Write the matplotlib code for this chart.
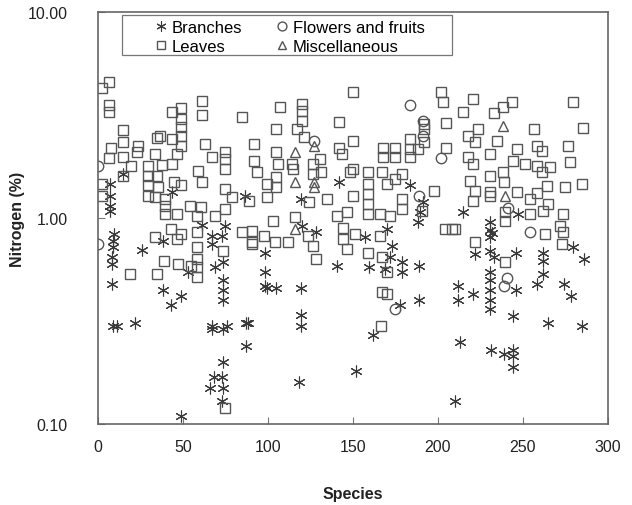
import numpy as np
import matplotlib
matplotlib.use("Agg")
import matplotlib.pyplot as plt
from matplotlib.ticker import FixedLocator, NullLocator, FixedFormatter
from matplotlib.patches import Rectangle

plt.rcParams['font.family'] = ['Liberation Sans', 'DejaVu Sans']

# Branches (species index, nitrogen %)
branch_x = [7, 7, 7, 7, 15, 9.5, 9, 9, 8.5, 8.5, 8.5, 26, 38, 43, 49, 9, 11, 22,
            43.5, 38, 61, 67, 67, 69, 53, 67, 73.5, 73, 73.5, 73.5, 73.5, 67, 73.5,
            87, 87, 73.5, 68, 73, 66, 73.5, 73, 49, 75, 86.5,
            98, 98, 98, 119.5, 120, 128, 142, 140.5, 99.5, 105, 119.5, 119.5, 119.5,
            88, 76, 118, 151.5, 159.5, 173, 172, 179, 179, 189, 189, 177.5, 162, 157,
            183.5, 191, 189.5, 188, 170, 215, 222, 169, 212, 212, 220.5,
            247, 230.5, 230.5, 230.5, 232, 230.5, 233, 246, 262, 262, 262, 258, 246,
            274, 278, 279.5, 286, 230.5, 230.5, 230.5, 230.5, 230.5, 244, 265, 285,
            213, 231, 239, 244, 244, 244, 210]
branch_y = [1.46, 1.28, 1.14, 1.08, 1.64, 0.835, 0.77, 0.72, 0.65, 0.6, 0.48, 0.7, 0.45, 0.38, 0.42, 0.3, 0.3, 0.31,
            1.34, 0.77, 0.93, 0.82, 0.75, 0.58, 0.55, 0.3, 0.61, 0.82, 0.5, 0.45, 0.4, 0.29, 0.29,
            0.31, 0.24, 0.2, 0.17, 0.17, 0.15, 0.15, 0.13, 0.11, 0.915, 1.28,
            0.68, 0.55, 0.47, 1.24, 0.915, 0.855, 1.5, 0.585, 0.46, 0.46, 0.46, 0.34, 0.3,
            0.31, 0.3, 0.16, 0.18, 0.58, 0.73, 0.65, 0.61, 0.55, 0.585, 0.4, 0.38, 0.27, 0.81,
            1.45, 1.2, 1.07, 0.955, 0.885, 1.07, 0.67, 0.565, 0.47, 0.4, 0.43,
            1.05, 0.955, 0.88, 0.81, 0.85, 0.69, 0.65, 0.68, 0.68, 0.62, 0.535, 0.48, 0.45,
            0.48, 0.42, 0.72, 0.63, 0.55, 0.5, 0.45, 0.4, 0.36, 0.335, 0.31, 0.3,
            0.25, 0.23, 0.22, 0.23, 0.215, 0.19, 0.13]

# Leaves
leaf_x = [2.5, 6.5, 6.5, 6.5, 15, 14.5, 7.5, 6.5, 15, 19.5, 14.5, 23.5, 23, 43.5, 49, 49, 49, 49, 49,
          36.5, 34.5, 43.5, 46.5, 43.5, 33.5, 29.5, 37.5, 29.5, 34.5, 29.5, 35.5, 29.5, 33.5,
          39.5, 39.5, 39.5, 46.5, 49, 45, 61, 61, 63, 67, 59, 61, 54, 60.5, 58, 69, 58, 33.5,
          43, 49, 46.5, 58, 58, 58, 58, 55, 47, 39, 34.5, 19, 2.5, 2.5, 75, 75, 75, 75, 75,
          75, 73.5, 85, 90.5, 97.5,
          85, 107, 120, 120, 120, 117, 121, 105, 92, 105, 92, 93.5, 106, 105, 105, 99.5, 99.5,
          89, 79, 114, 115, 126.5, 126.5, 131, 130.5, 124, 135, 103, 116, 90.5, 90.5, 104,
          112, 123.5, 126.5, 128, 140.5, 146.5, 144, 144, 146.5, 142, 142, 150, 150, 150, 150,
          151, 143.5, 148, 159, 159, 159, 159, 159, 159, 166, 166, 167, 170, 167, 170, 166.5,
          167.5, 167.5, 167, 170, 175, 175, 175, 172, 179, 179, 179, 183.5, 183.5, 183.5, 188,
          192, 192, 192, 190.5, 197.5, 205, 205, 202, 203, 214.5, 220.5, 217.5, 223.5, 222,
          217.5, 220.5, 219, 222, 220.5, 208, 204, 210, 222,
          243.5, 238, 233, 279.5, 285.5, 256.5, 235, 230.5, 230.5, 230.5, 246.5, 244, 251,
          258, 261, 258, 261, 266, 276.5, 277.5, 284.5, 274.5, 238, 239, 239.5, 239.5, 246.5,
          254, 254, 264, 264.5, 262, 273.5, 263, 271.5, 273, 239.5, 230.5, 258, 273.5]
leaf_y = [4.3, 4.6, 3.55, 3.27, 2.67, 2.34, 2.2, 1.95, 1.97, 1.79, 1.6, 2.24, 2.09, 3.27, 3.42, 3.03, 2.76, 2.5, 2.24,
          2.5, 2.45, 2.42, 2.04, 1.83, 2.04, 1.79, 1.81, 1.6, 1.6, 1.45, 1.41, 1.28, 1.27,
          1.24, 1.14, 1.05, 1.05, 1.45, 1.5, 3.7, 3.16, 2.29, 1.97, 1.69, 1.5, 1.14, 1.13, 1.02, 1.02, 0.855, 0.81,
          0.885, 0.835, 0.79, 0.72, 0.63, 0.58, 0.52, 0.585, 0.6, 0.62, 0.535, 0.535, 1.46, 1.28, 2.09, 1.93, 1.73, 1.38, 1.11,
          0.12, 0.69, 0.855, 0.75, 0.82,
          3.1, 3.45, 3.57, 3.3, 2.96, 2.7, 2.47, 2.7, 2.29, 2.09, 1.89, 1.67, 1.83, 1.58, 1.41, 1.46, 1.27,
          1.21, 1.27, 1.83, 1.73, 1.83, 1.64, 1.67, 1.93, 1.2, 1.24, 0.97, 1.01, 0.87, 0.765, 0.765,
          0.765, 0.82, 0.73, 0.63, 1.02, 1.07, 0.9, 0.79, 0.71, 2.93, 2.2, 4.1, 2.37, 1.73, 1.28,
          0.835, 2.04, 1.67, 1.67, 1.46, 1.31, 1.17, 1.05, 0.68, 1.05, 0.82, 0.65, 0.55, 0.44, 0.43, 0.3,
          2.2, 1.97, 1.67, 1.46, 2.2, 1.99, 1.55, 1.02, 1.64, 1.24, 1.11, 2.42, 2.16, 1.99, 2.16,
          2.87, 2.7, 2.34, 1.08, 1.35, 2.9, 2.18, 4.1, 3.65, 3.27, 3.78, 2.5, 2.7, 2.34,
          1.99, 1.83, 1.51, 1.35, 1.21, 0.885, 0.885, 0.885, 0.765,
          3.65, 3.45, 3.24, 3.65, 2.73, 2.7, 2.37, 2.04, 1.6, 1.28, 2.16, 1.89, 1.83,
          2.24, 2.12, 1.79, 1.67, 1.77, 2.24, 1.87, 1.46, 1.41, 1.67, 1.5, 1.07, 0.97, 1.34,
          1.24, 1.05, 1.43, 1.17, 1.08, 1.05, 0.835, 0.915, 0.75, 0.61, 1.34, 1.33, 0.855]

# Flowers and fruits
flower_x = [0, 0, 127, 183.5, 191, 191, 189, 202, 175, 254, 240.5, 239, 241]
flower_y = [1.8, 0.75, 2.37, 3.55, 2.95, 2.5, 1.28, 1.95, 0.36, 0.86, 0.51, 0.47, 1.12]

# Miscellaneous
misc_x = [116, 127, 116, 127, 127, 116, 238, 239.5]
misc_y = [2.09, 2.24, 1.5, 1.5, 1.41, 0.885, 2.8, 1.28]

fig = plt.figure(figsize=(6.32, 5.06), dpi=100)
ax = fig.add_axes([0.155, 0.160, 0.807, 0.814])

edge = '#555555'
ax.plot(branch_x, branch_y, linestyle='none', marker=(6, 2, 0), markersize=8.5,
        color='#3a3a3a', markeredgewidth=0.8, label='Branches')
ax.plot(leaf_x, leaf_y, linestyle='none', marker='s', markersize=7,
        mfc='none', mec=edge, markeredgewidth=1.0, label='Leaves')
ax.plot(flower_x, flower_y, linestyle='none', marker='o', markersize=7.5,
        mfc='none', mec=edge, markeredgewidth=1.0, label='Flowers and fruits')
ax.plot(misc_x, misc_y, linestyle='none', marker='^', markersize=7.5,
        mfc='none', mec=edge, markeredgewidth=1.0, label='Miscellaneous')

ax.set_yscale('log')
ax.set_xlim(0, 300)
ax.set_ylim(0.1, 10)
ax.set_xticks([0, 50, 100, 150, 200, 250, 300])
ax.yaxis.set_major_locator(FixedLocator([0.1, 1, 10]))
ax.yaxis.set_major_formatter(FixedFormatter(['0.10', '1.00', '10.00']))
ax.yaxis.set_minor_locator(NullLocator())
ax.tick_params(direction='in', length=5, width=0.8, color='#777777',
               labelsize=11.5, labelcolor='#222222')
ax.tick_params(axis='x', pad=11)
ax.tick_params(axis='y', pad=22)

for s in ax.spines.values():
    s.set_color('#666666')
    s.set_linewidth(1.2)

ax.set_xlabel('Species', fontsize=11.5, fontweight='bold', color='#222222', labelpad=23)
ax.set_ylabel('Nitrogen (%)', fontsize=11.5, fontweight='bold', color='#222222', labelpad=2)

# legend box
ax.add_patch(Rectangle((0.047, 0.896), 0.647, 0.097, transform=ax.transAxes,
                       facecolor='white', edgecolor='#777777', linewidth=0.9, zorder=4))
leg = ax.legend(ncol=2, loc='upper left', bbox_to_anchor=(0.108, 0.981),
                borderaxespad=0, borderpad=0, frameon=False, fontsize=12,
                handletextpad=0.2, handlelength=0.9, numpoints=1, markerscale=0.85,
                columnspacing=1.95, labelspacing=0.25)
leg.set_zorder(5)

fig.savefig('out.png', dpi=100)
